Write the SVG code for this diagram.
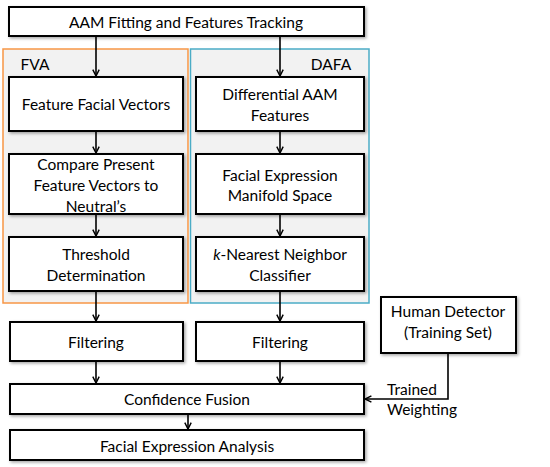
<svg xmlns="http://www.w3.org/2000/svg" width="550" height="467" viewBox="0 0 550 467">
<defs>
<filter id="sh" x="-10%" y="-20%" width="120%" height="150%">
<feDropShadow dx="1.5" dy="1.5" stdDeviation="1.5" flood-color="#000" flood-opacity="0.35"/>
</filter>
<marker id="ah" viewBox="0 0 10 10" refX="9" refY="5" markerWidth="8" markerHeight="8" markerUnits="userSpaceOnUse" orient="auto">
<path d="M1,1 L9,5 L1,9" fill="none" stroke="#000" stroke-width="1.8"/>
</marker>
<style>
.b{fill:#fff;stroke:#000;stroke-width:2;filter:url(#sh)}
.t{font-family:Lato,"Open Sans","Liberation Sans",sans-serif;font-size:15.5px;fill:#000;text-anchor:middle;dominant-baseline:central}
.c{fill:none;stroke:#000;stroke-width:1.6}
</style>
</defs>
<rect width="550" height="467" fill="#fff"/>
<g id="fva">
<rect x="3" y="49" width="185" height="254" fill="#f2f2f2" stroke="#f79646" stroke-width="1.5"/>
<text class="t" x="35" y="64">FVA</text>
</g>
<g id="dafa">
<rect x="190.5" y="49" width="178.5" height="254" fill="#f2f2f2" stroke="#4bacc6" stroke-width="1.5"/>
<text class="t" x="331" y="64">DAFA</text>
</g>
<g id="connectors">
<line class="c" x1="96" y1="36" x2="96" y2="76" marker-end="url(#ah)"/>
<line class="c" x1="280" y1="36" x2="280" y2="76" marker-end="url(#ah)"/>
<line class="c" x1="96" y1="131" x2="96" y2="153" marker-end="url(#ah)"/>
<line class="c" x1="280" y1="131" x2="280" y2="153" marker-end="url(#ah)"/>
<line class="c" x1="96" y1="214" x2="96" y2="236" marker-end="url(#ah)"/>
<line class="c" x1="280" y1="214" x2="280" y2="236" marker-end="url(#ah)"/>
<line class="c" x1="96" y1="291" x2="96" y2="321" marker-end="url(#ah)"/>
<line class="c" x1="280" y1="291" x2="280" y2="321" marker-end="url(#ah)"/>
<line class="c" x1="96" y1="361" x2="96" y2="383" marker-end="url(#ah)"/>
<line class="c" x1="280" y1="361" x2="280" y2="383" marker-end="url(#ah)"/>
<line class="c" x1="188" y1="414" x2="188" y2="429" marker-end="url(#ah)"/>
<polyline class="c" points="448,353 448,399 365,399" marker-end="url(#ah)"/>
<text class="t" x="387" y="389" style="text-anchor:start">Trained</text>
<text class="t" x="387" y="409" style="text-anchor:start">Weighting</text>
</g>
<g id="aam">
<rect class="b" x="9" y="7" width="355" height="29"/>
<text class="t" x="186" y="22">AAM Fitting and Features Tracking</text>
</g>
<g id="ffv">
<rect class="b" x="9" y="77" width="174" height="54"/>
<text class="t" x="96" y="104">Feature Facial Vectors</text>
</g>
<g id="daam">
<rect class="b" x="196" y="77" width="168" height="54"/>
<text class="t" x="280" y="94">Differential AAM</text>
<text class="t" x="280" y="115">Features</text>
</g>
<g id="compare">
<rect class="b" x="9" y="154" width="174" height="60"/>
<text class="t" x="96" y="164">Compare Present</text>
<text class="t" x="96" y="185">Feature Vectors to</text>
<text class="t" x="96" y="206">Neutral’s</text>
</g>
<g id="manifold">
<rect class="b" x="196" y="154" width="168" height="60"/>
<text class="t" x="280" y="175">Facial Expression</text>
<text class="t" x="280" y="195">Manifold Space</text>
</g>
<g id="threshold">
<rect class="b" x="9" y="237" width="174" height="54"/>
<text class="t" x="96" y="254">Threshold</text>
<text class="t" x="96" y="275">Determination</text>
</g>
<g id="knn">
<rect class="b" x="196" y="237" width="168" height="54"/>
<text class="t" x="280" y="254"><tspan font-style="italic">k</tspan>-Nearest Neighbor</text>
<text class="t" x="280" y="275">Classifier</text>
</g>
<g id="filt1">
<rect class="b" x="10" y="322" width="173" height="39"/>
<text class="t" x="96" y="342">Filtering</text>
</g>
<g id="filt2">
<rect class="b" x="196" y="322" width="168" height="39"/>
<text class="t" x="280" y="342">Filtering</text>
</g>
<g id="human">
<rect class="b" x="381" y="297" width="135" height="56"/>
<text class="t" x="448" y="311">Human Detector</text>
<text class="t" x="448" y="332">(Training Set)</text>
</g>
<g id="fusion">
<rect class="b" x="10" y="384" width="354" height="30"/>
<text class="t" x="187" y="399">Confidence Fusion</text>
</g>
<g id="fea">
<rect class="b" x="10" y="430" width="354" height="30"/>
<text class="t" x="187" y="446">Facial Expression Analysis</text>
</g>
</svg>
